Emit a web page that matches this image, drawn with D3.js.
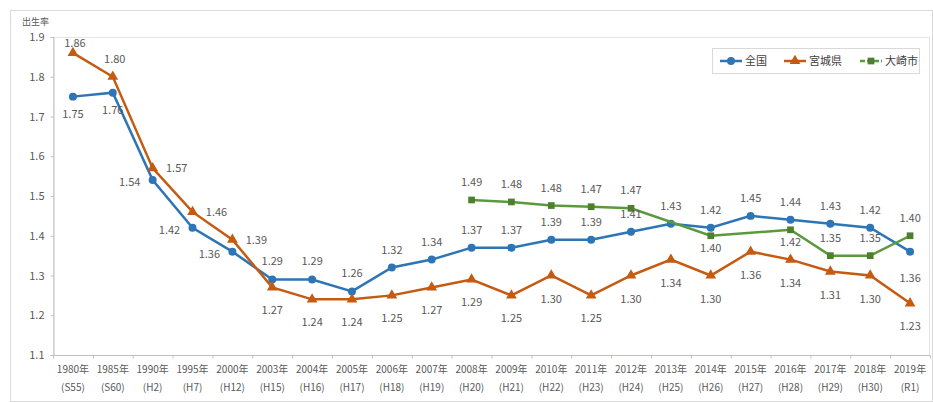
<!DOCTYPE html>
<html>
<head>
<meta charset="utf-8">
<script src="https://cdn.jsdelivr.net/npm/d3@7"></script>
<style>
  body { margin: 0; background: #fff; }
  svg text { font-family: "Noto Sans CJK JP", "DejaVu Sans", sans-serif; }
</style>
</head>
<body>
<svg id="chart" width="933" height="402"></svg>
<script>
const years = ["1980年", "1985年", "1990年", "1995年", "2000年", "2003年", "2004年", "2005年", "2006年", "2007年", "2008年",
  "2009年", "2010年", "2011年", "2012年", "2013年", "2014年", "2015年", "2016年", "2017年", "2018年", "2019年"];
const eras = ["(S55)", "(S60)", "(H2)", "(H7)", "(H12)", "(H15)", "(H16)", "(H17)", "(H18)", "(H19)", "(H20)",
  "(H21)", "(H22)", "(H23)", "(H24)", "(H25)", "(H26)", "(H27)", "(H28)", "(H29)", "(H30)", "(R1)"];
const national = [1.75, 1.76, 1.54, 1.42, 1.36, 1.29, 1.29, 1.26, 1.32, 1.34, 1.37,
  1.37, 1.39, 1.39, 1.41, 1.43, 1.42, 1.45, 1.44, 1.43, 1.42, 1.36];
const miyagi = [1.86, 1.80, 1.57, 1.46, 1.39, 1.27, 1.24, 1.24, 1.25, 1.27, 1.29,
  1.25, 1.30, 1.25, 1.30, 1.34, 1.30, 1.36, 1.34, 1.31, 1.30, 1.23];
const osaki = [null, null, null, null, null, null, null, null, null, null, 1.49,
  1.485, 1.476, 1.473, 1.469, null, 1.40, null, 1.415, 1.35, 1.35, 1.40];
const osakiLabels = [null, null, null, null, null, null, null, null, null, null, "1.49",
  "1.48", "1.48", "1.47", "1.47", null, "1.40", null, "1.42", "1.35", "1.35", "1.40"];
const yTicks = [1.1, 1.2, 1.3, 1.4, 1.5, 1.6, 1.7, 1.8, 1.9];

const margins = { top: 37, right: 3, bottom: 47, left: 53 };
const W = 933, H = 402;
const width = W - margins.left - margins.right;
const height = H - margins.top - margins.bottom;

const svgMain = d3.select("#chart");

// outer frame
svgMain.append("rect")
  .attr("x", 10.5).attr("y", 10.5)
  .attr("width", W - 11).attr("height", H - 11)
  .attr("fill", "none").attr("stroke", "#d9d9d9");

const svg = svgMain.append("g")
  .attr("transform", "translate(" + margins.left + "," + margins.top + ")");

const x = d3.scaleBand().domain(d3.range(years.length)).range([0, width]);
const cx = (i) => x(i) + x.bandwidth() / 2;
const y = d3.scaleLinear().domain([1.1, 1.9]).range([height, 0]);

// plot area frame
svg.append("rect")
  .attr("x", 0.5).attr("y", 0.5)
  .attr("width", width - 1).attr("height", height)
  .attr("fill", "none").attr("stroke", "#e4e4e4");

// y axis
svg.append("g")
  .attr("transform", "translate(0.5,0)")
  .call(d3.axisLeft(y).tickValues(yTicks).tickFormat(d3.format(".1f")).tickSize(3).tickPadding(6))
  .call((g) => g.select(".domain").attr("stroke", "#bfbfbf"))
  .call((g) => g.selectAll(".tick line").attr("stroke", "#bfbfbf"))
  .call((g) => g.selectAll("text").attr("fill", "#595959").style("font-size", "11px"));

svgMain.append("text")
  .attr("x", 22).attr("y", 25)
  .attr("fill", "#595959").style("font-size", "9px")
  .text("出生率");

// x axis
const xAxis = svg.append("g").attr("transform", "translate(0," + (height + 0.5) + ")");
xAxis.append("line")
  .attr("x1", 0).attr("x2", width)
  .attr("stroke", "#bfbfbf");
xAxis.selectAll(".tk")
  .data(d3.range(years.length + 1))
  .enter()
  .append("line")
  .attr("x1", (d) => d * x.bandwidth() + 0.5)
  .attr("x2", (d) => d * x.bandwidth() + 0.5)
  .attr("y1", 0).attr("y2", 3)
  .attr("stroke", "#bfbfbf");
xAxis.selectAll(".yr")
  .data(years)
  .enter()
  .append("text")
  .attr("x", (d, i) => cx(i))
  .attr("y", 17)
  .attr("text-anchor", "middle")
  .attr("fill", "#595959").style("font-size", "10px")
  .text((d) => d);
xAxis.selectAll(".era")
  .data(eras)
  .enter()
  .append("text")
  .attr("x", (d, i) => cx(i))
  .attr("y", 35)
  .attr("text-anchor", "middle")
  .attr("fill", "#595959").style("font-size", "10px")
  .text((d) => d);

const series = [
  { name: "全国", values: national, color: "#2e75b6", marker: "circle" },
  { name: "宮城県", values: miyagi, color: "#c55a11", marker: "triangle" },
  { name: "大崎市", values: osaki, color: "#5b9a3c", markerColor: "#4d7f2f", marker: "square" }
];

const line = d3.line()
  .x((d) => cx(d.i))
  .y((d) => y(d.v));

const symbolFor = (m) =>
  m === "circle" ? d3.symbol(d3.symbolCircle, 50)
    : m === "triangle" ? d3.symbol(d3.symbolTriangle, 50)
    : d3.symbol(d3.symbolSquare, 45);

series.forEach((s) => {
  const pts = s.values.map((v, i) => ({ i, v })).filter((d) => d.v != null);
  svg.append("path")
    .datum(pts)
    .attr("fill", "none")
    .attr("stroke", s.color)
    .attr("stroke-width", 2.5)
    .attr("d", line);
  svg.selectAll(null)
    .data(pts)
    .enter()
    .append("path")
    .attr("transform", (d) => "translate(" + cx(d.i) + "," + y(d.v) + ")")
    .attr("d", symbolFor(s.marker)())
    .attr("fill", s.markerColor || s.color);
});

// data labels: [dx, dy] offsets from the point
const labelStyle = (sel) => sel.attr("fill", "#595959").style("font-size", "11px").attr("text-anchor", "middle");

const natPos = (i) => {
  if (i <= 1) return [0, 21];
  if (i <= 4) return [-23, 6];
  if (i === 21) return [0, 30];
  return [0, -14];
};
const miyPos = (i) => {
  if (i === 0) return [2, -6];
  if (i === 1) return [2, -14];
  if (i <= 4) return [24, 4];
  return [0, 27];
};
const osaPos = (i) => {
  if (i === 16 || i === 18) return [0, 16];
  return [0, -14];
};

svg.selectAll(".lblN")
  .data(national)
  .enter()
  .append("text")
  .call(labelStyle)
  .attr("x", (d, i) => cx(i) + natPos(i)[0])
  .attr("y", (d, i) => y(d) + natPos(i)[1])
  .text((d) => d.toFixed(2));

svg.selectAll(".lblM")
  .data(miyagi)
  .enter()
  .append("text")
  .call(labelStyle)
  .attr("x", (d, i) => cx(i) + miyPos(i)[0])
  .attr("y", (d, i) => y(d) + miyPos(i)[1])
  .text((d) => d.toFixed(2));

svg.selectAll(".lblO")
  .data(osaki.map((v, i) => ({ i, v, t: osakiLabels[i] })).filter((d) => d.v != null))
  .enter()
  .append("text")
  .call(labelStyle)
  .attr("x", (d) => cx(d.i) + osaPos(d.i)[0])
  .attr("y", (d) => y(d.v) + osaPos(d.i)[1])
  .text((d) => d.t);

// legend
const legend = svgMain.append("g").attr("transform", "translate(712,48)");
legend.append("rect")
  .attr("x", 0.5).attr("y", 0.5)
  .attr("width", 207).attr("height", 25)
  .attr("fill", "#fff").attr("stroke", "#d9d9d9");
const legX = [8, 72, 148];
series.forEach((s, k) => {
  const g = legend.append("g").attr("transform", "translate(" + legX[k] + ",13)");
  g.append("line")
    .attr("x1", 0).attr("x2", 22)
    .attr("stroke", s.color).attr("stroke-width", 2.5)
    .attr("stroke-dasharray", s.marker === "square" ? "5,2" : null);
  g.append("path")
    .attr("transform", "translate(11,0)")
    .attr("d", symbolFor(s.marker)())
    .attr("fill", s.markerColor || s.color);
  g.append("text")
    .attr("x", 25).attr("y", 4)
    .attr("fill", "#404040").style("font-size", "11px")
    .text(s.name);
});
</script>
</body>
</html>
